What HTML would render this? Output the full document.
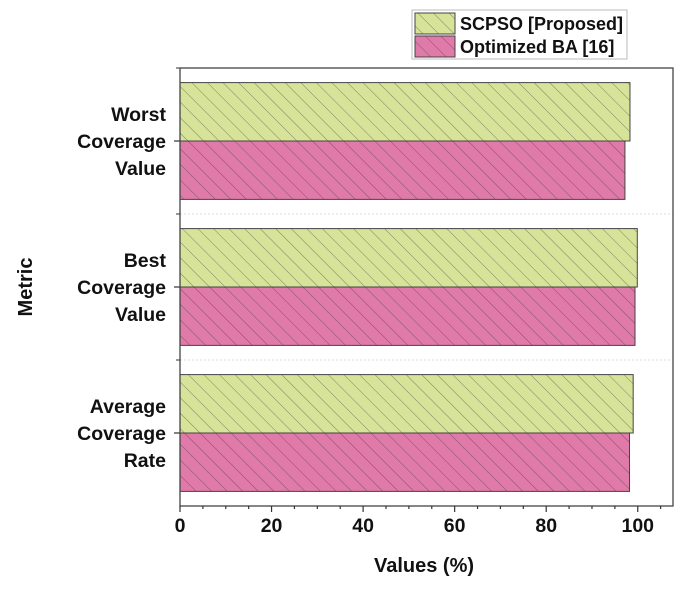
<!DOCTYPE html>
<html><head><meta charset="utf-8"><style>
body{margin:0;background:#fff;}
svg text{font-family:"Liberation Sans",Arial,sans-serif;font-weight:bold;fill:#111;}
</style></head><body>
<svg id="chart" width="685" height="589" viewBox="0 0 685 589" xmlns="http://www.w3.org/2000/svg">
<defs>
<pattern id="hatch" patternUnits="userSpaceOnUse" width="11" height="11" patternTransform="rotate(-45)">
<line x1="0" y1="0" x2="0" y2="11" stroke="#333" stroke-width="0.8" opacity="0.7"/>
</pattern>
</defs>
<g id="plot"></g>
</svg>
<script>
const categories = ["Worst Coverage Value", "Best Coverage Value", "Average Coverage Rate"];
const catLines = [["Worst","Coverage","Value"],["Best","Coverage","Value"],["Average","Coverage","Rate"]];
const scpso = [98.3, 99.9, 99.0];
const optBA = [97.2, 99.4, 98.2];
const xTicks = [0, 20, 40, 60, 80, 100];
const seriesNames = ["SCPSO [Proposed]", "Optimized BA [16]"];

const NS = "http://www.w3.org/2000/svg";
const L = 180, R = 673, T = 68, B = 506, XMAX = 107.7;
const x = v => L + v / XMAX * (R - L);
const band = (B - T) / categories.length;
const y = i => T + i * band;
const g = document.getElementById('plot');
function mk(tag, attrs, parent) {
  const e = document.createElementNS(NS, tag);
  for (const k in attrs) e.setAttribute(k, attrs[k]);
  (parent || g).appendChild(e);
  return e;
}
for (let i = 1; i < categories.length; i++) {
  const l = mk('line', {x1: L, x2: R, y1: y(i), y2: y(i), stroke: '#ddd', 'stroke-dasharray': '2,2'});
  
  
}
const colors = ['#d8e39a', '#e07aa8'];
const series = [scpso, optBA];
categories.forEach((c, i) => {
  const pad = band * 0.1, h = band * 0.4;
  series.forEach((s, j) => {
    const yy = y(i) + pad + j * h;
    const r = mk('rect', {x: x(0), y: yy, width: x(s[i]) - x(0), height: h, fill: colors[j], stroke: '#444', 'stroke-width': 1});
    
    
    const hr = mk('rect', {x: x(0), y: yy, width: x(s[i]) - x(0), height: h, fill: 'url(#hatch)'});
    
    
  });
  const cy = y(i) + band / 2;
  const tk = mk('line', {x1: L - 6, x2: L, y1: cy, y2: cy, stroke: '#333', 'stroke-width': 1.2});
  
  
  const t = mk('text', {x: 166, 'text-anchor': 'end', 'font-size': 19.5});
  
  
  catLines[i].forEach((ln, k) => {
    const ts = mk('tspan', {x: 166, y: cy - 20 + k * 27}, t);
    ts.textContent = ln;
  });
  const st = mk('line', {x1: L - 4, x2: L, y1: y(i), y2: y(i), stroke: '#333'});
  
  
});
const fr = mk('rect', {x: L, y: T, width: R - L, height: B - T, fill: 'none', stroke: '#444', 'stroke-width': 1.3});


for (let v = 0; v <= 105; v += 5) {
  const major = v % 20 === 0;
  const tl = mk('line', {x1: x(v), x2: x(v), y1: B, y2: B + (major ? 6 : 3), stroke: '#333', 'stroke-width': 1.2});
  
  
}
xTicks.forEach(v => {
  const t = mk('text', {x: x(v), y: 532, 'text-anchor': 'middle', 'font-size': 19.5});
  
  
  t.textContent = v;
});
const xt = mk('text', {x: 424, y: 572, 'text-anchor': 'middle', 'font-size': 20});


xt.textContent = 'Values (%)';
const yt = mk('text', {x: 0, y: 0, 'text-anchor': 'middle', 'font-size': 20, transform: 'translate(32,287) rotate(-90)'});


yt.textContent = 'Metric';
const lg = mk('g', {});


const lb = mk('rect', {x: 412, y: 10, width: 215, height: 49, fill: '#fff', stroke: '#bbb'}, lg);


seriesNames.forEach((n, j) => {
  const sy = 13 + j * 23;
  const sw = mk('rect', {x: 415, y: sy, width: 40, height: 21, fill: colors[j], stroke: '#444'}, lg);
  
  
  const sh = mk('rect', {x: 415, y: sy, width: 40, height: 21, fill: 'url(#hatch)'}, lg);
  
  
  const t = mk('text', {x: 460, y: sy + 17, 'font-size': 18}, lg);
  
  
  t.textContent = n;
});
</script>
</body></html>
